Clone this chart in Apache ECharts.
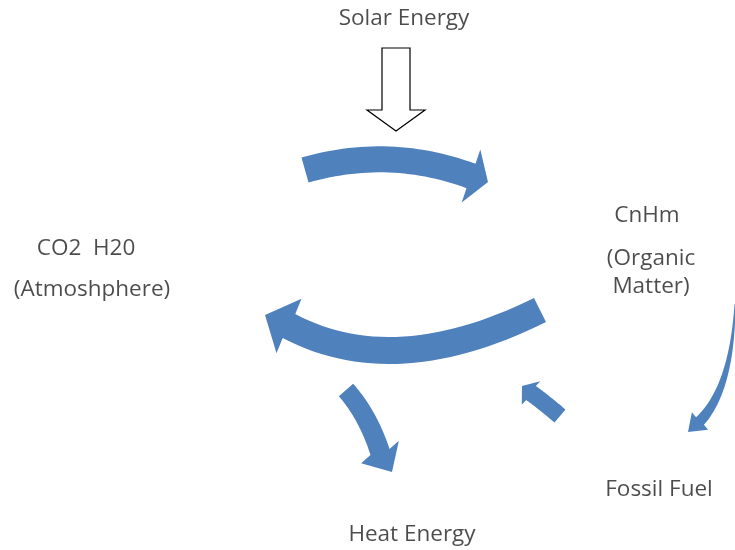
<!DOCTYPE html>
<html>
<head>
<meta charset="utf-8">
<script src="https://cdn.jsdelivr.net/npm/echarts@6/dist/echarts.min.js"></script>
<style>
  html, body { margin: 0; padding: 0; background: #fff; }
  #main { width: 735px; height: 550px; }
</style>
</head>
<body>
<div id="main"></div>
<script>
// labels of the cycle and where they sit (diagram units = pixels of the sheet)
const labelNames = ['Solar Energy', 'CnHm', '(Organic', 'Matter)', 'CO2  H20', '(Atmoshphere)', 'Heat Energy', 'Fossil Fuel']
const labelX = [404, 647, 651, 651, 86, 92, 412, 659]
const labelY = [19, 216, 259, 287, 249, 290, 535, 490]

// arrows: start, bend, end of shaft, then tip of head
const arrowNames = ['photosynthesis', 'respiration', 'heat', 'combustion', 'burial']
const arrowStart = [[305, 170], [540, 310], [346, 390], [560, 416], [735, 304]]
const arrowBend = [[390, 146], [395, 382], [368, 415], [541, 400], [732, 388]]
const arrowEnd = [[471, 176], [289, 326], [380, 452], [531, 393], [700, 421]]
const arrowTip = [[488, 182], [265, 315], [392, 472], [522, 386], [688, 432]]

// the sunlight arrow
const solarStart = [396, 48]
const solarEnd = [396, 110]
const solarTip = [396, 131]

const blue = '#4f81bd'
// shaft width at start / end, head width
const arrowWidths = [[26, 26, 56], [27, 27, 60], [19, 20, 44], [17, 17, 30], [1, 11, 24]]

function arrowShape(p0, p1, p2, tip, w0, w1, hw) {
  const n = 30
  const left = [], right = []
  for (let i = 0; i <= n; i++) {
    const t = i / n, u = 1 - t
    const x = u * u * p0[0] + 2 * u * t * p1[0] + t * t * p2[0]
    const y = u * u * p0[1] + 2 * u * t * p1[1] + t * t * p2[1]
    let dx = 2 * u * (p1[0] - p0[0]) + 2 * t * (p2[0] - p1[0])
    let dy = 2 * u * (p1[1] - p0[1]) + 2 * t * (p2[1] - p1[1])
    const len = Math.sqrt(dx * dx + dy * dy) || 1
    dx /= len; dy /= len
    const w = (w0 + (w1 - w0) * t) / 2
    left.push([x - dy * w, y + dx * w])
    right.push([x + dy * w, y - dx * w])
  }
  // head
  let hx = tip[0] - p2[0], hy = tip[1] - p2[1]
  const hl = Math.sqrt(hx * hx + hy * hy) || 1
  hx /= hl; hy /= hl
  const b1 = [p2[0] - hy * hw / 2, p2[1] + hx * hw / 2]
  const b2 = [p2[0] + hy * hw / 2, p2[1] - hx * hw / 2]
  return left.concat([b1, tip, b2]).concat(right.reverse())
}

const chart = echarts.init(document.getElementById('main'), null, { renderer: 'canvas' })

chart.setOption({
  backgroundColor: '#ffffff',
  animation: false,
  grid: { left: 0, right: 0, top: 0, bottom: 0 },
  xAxis: { type: 'value', min: 0, max: 735, show: false },
  yAxis: { type: 'value', min: 0, max: 550, inverse: true, show: false },
  series: [
    {
      type: 'custom',
      name: 'cycle',
      data: arrowNames.map((n, i) => [i]),
      renderItem(params, api) {
        const i = api.value(0)
        const w = arrowWidths[i]
        const pts = arrowShape(
          api.coord(arrowStart[i]), api.coord(arrowBend[i]),
          api.coord(arrowEnd[i]), api.coord(arrowTip[i]), w[0], w[1], w[2])
        return {
          type: 'polygon',
          shape: { points: pts },
          style: { fill: blue }
        }
      }
    },
    {
      type: 'custom',
      name: 'solar',
      data: [[0]],
      renderItem(params, api) {
        const a = api.coord(solarStart), b = api.coord(solarEnd)
        const mid = [(a[0] + b[0]) / 2, (a[1] + b[1]) / 2]
        const pts = arrowShape(a, mid, b, api.coord(solarTip), 28, 28, 58)
        return {
          type: 'polygon',
          shape: { points: pts },
          style: { fill: '#ffffff', stroke: '#000000', lineWidth: 1.2 }
        }
      }
    },
    {
      type: 'scatter',
      symbolSize: 0,
      data: labelNames.map((n, i) => ({ name: n, value: [labelX[i], labelY[i]] })),
      label: {
        show: true,
        position: 'inside',
        formatter: p => p.name,
        color: '#1f1f1f',
        fontFamily: 'Open Sans',
        fontSize: 22.5
      }
    }
  ]
})
</script>
</body>
</html>
